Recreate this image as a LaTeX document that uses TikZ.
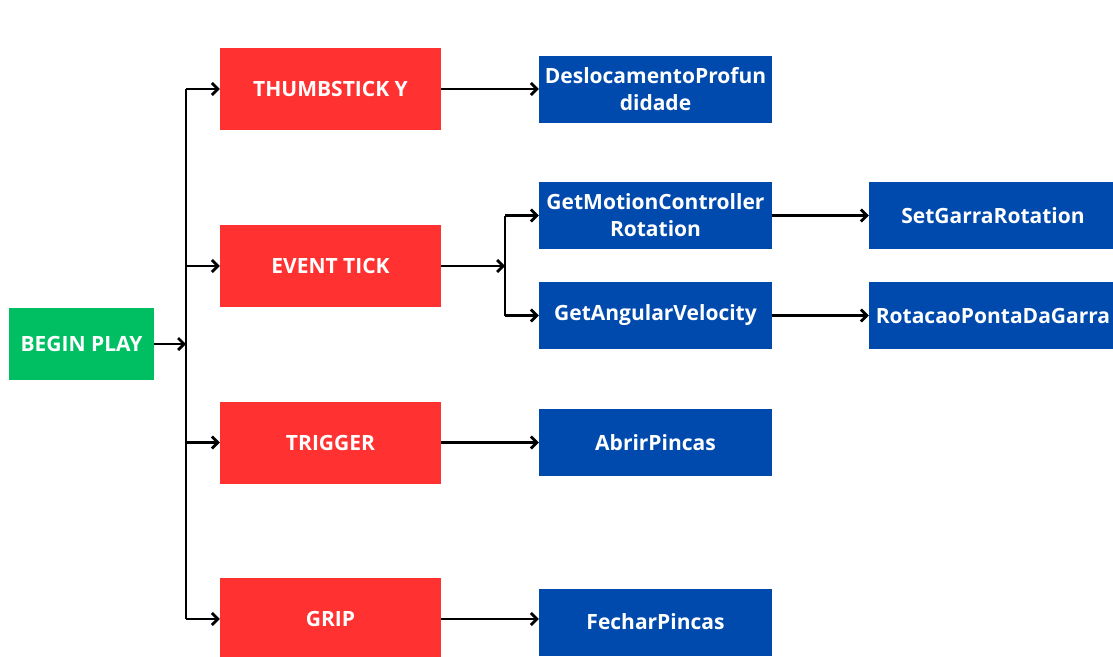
\documentclass[tikz,border=0pt]{standalone}
\usepackage{fontspec}
\setmainfont{Open Sans}
\usetikzlibrary{calc,arrows.meta}

\definecolor{playgreen}{HTML}{00BF63}
\definecolor{eventred}{HTML}{FF3131}
\definecolor{funcblue}{HTML}{004AAD}

\begin{document}
\begin{tikzpicture}[x=1pt,y=-1pt,
    box/.style={inner sep=0pt,align=center,text=white,font=\fontsize{21}{27}\selectfont\bfseries},
    startbox/.style={box,fill=playgreen,minimum width=145pt,minimum height=72pt},
    eventbox/.style={box,fill=eventred,minimum width=221pt,minimum height=82pt},
    funcbox/.style={box,fill=funcblue,minimum width=233pt,minimum height=67pt},
    arr/.style={-{Straight Barb[length=6pt,width=12pt]},line width=2.8pt},
    link/.style={line width=2.8pt}]
  \useasboundingbox (0,0) rectangle (1113,656);

  % start node
  \node[startbox] (begin) at (81.5,344) {BEGIN PLAY};

  % events
  \node[eventbox] (thumb) at (330.5,89) {THUMBSTICK Y};
  \node[eventbox] (tick) at (330.5,266) {EVENT TICK};
  \node[eventbox] (trigger) at (330.5,442.5) {TRIGGER};
  \node[eventbox] (grip) at (330.5,619) {GRIP};

  % functions
  \node[funcbox] (desloc) at (655.5,89.5) {DeslocamentoProfun\\didade};
  \node[funcbox] (motion) at (655.5,215.5) {GetMotionController\\Rotation};
  \node[funcbox] (angular) at (655.5,315.5) {GetAngularVelocity};
  \node[funcbox] (abrir) at (655.5,442.5) {AbrirPincas};
  \node[funcbox] (fechar) at (655.5,622) {FecharPincas};
  \node[funcbox,minimum width=248pt] (setgarra) at (993,215.5) {SetGarraRotation};
  \node[funcbox,minimum width=248pt] (ponta) at (993,315.5) {RotacaoPontaDaGarra};

  % trunk from begin play
  \coordinate (trunk) at (186,344);
  \draw[arr] (begin.east) -- (trunk);
  \draw[link] (trunk |- thumb) -- (trunk |- grip);
  \foreach \ev in {thumb,tick,trigger,grip}
    \draw[arr] (trunk |- \ev) -- (\ev.west);

  % event to function
  \draw[arr] (thumb.east) -- (thumb.east -| desloc.west);
  \draw[arr] (trigger.east) -- (abrir.west);
  \draw[arr] (grip.east) -- (grip.east -| fechar.west);

  % fork after event tick
  \coordinate (fork) at (505,266);
  \draw[arr] (tick.east) -- (fork);
  \draw[link] (fork |- motion) -- (fork |- angular);
  \draw[arr] (fork |- motion) -- (motion.west);
  \draw[arr] (fork |- angular) -- (angular.west);

  \draw[arr] (motion.east) -- (setgarra.west);
  \draw[arr] (angular.east) -- (ponta.west);
\end{tikzpicture}
\end{document}
